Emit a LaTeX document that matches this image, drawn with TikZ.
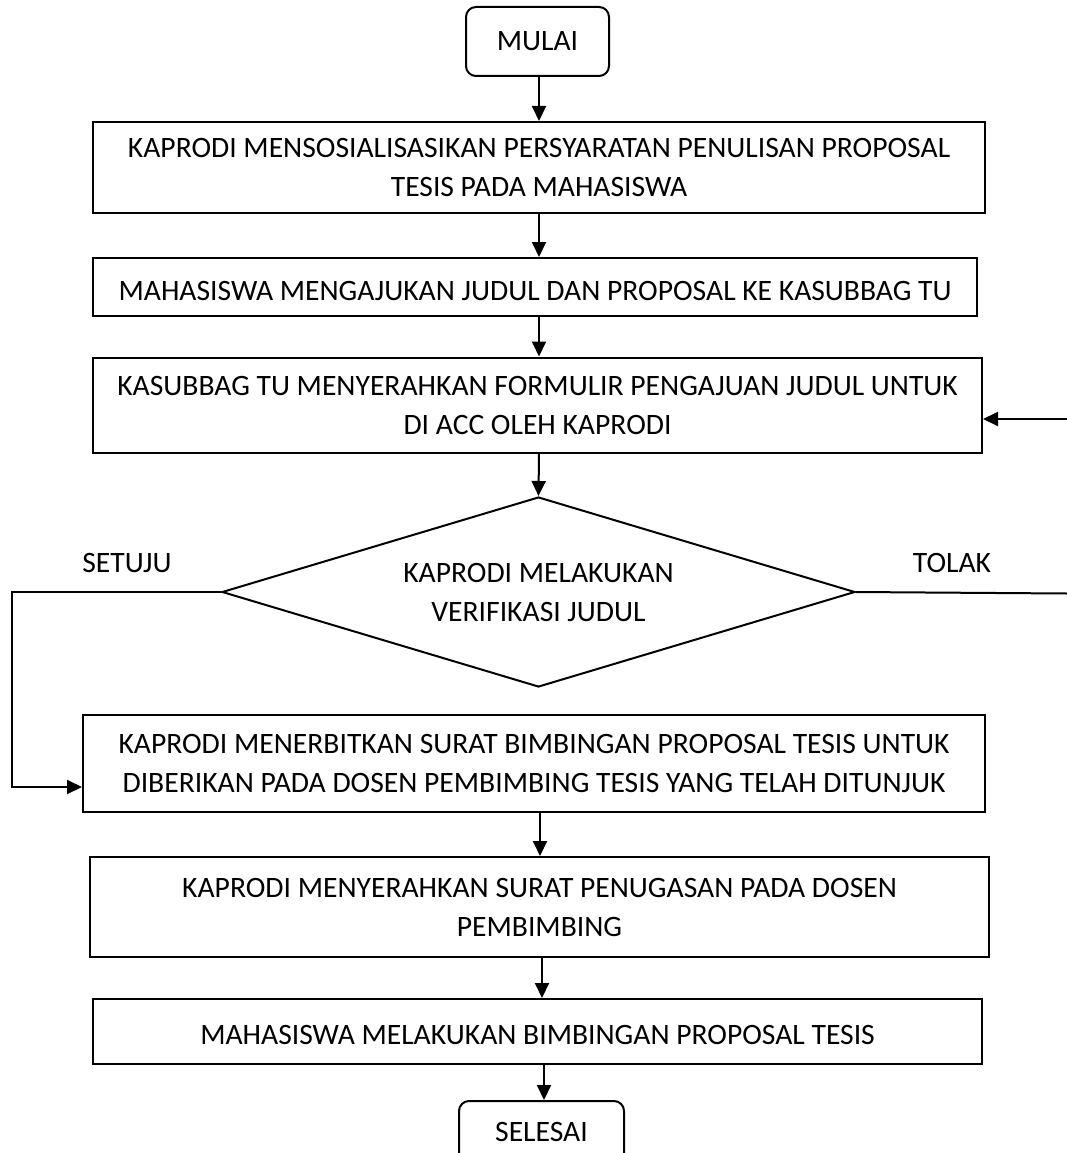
\documentclass[tikz,border=0pt]{standalone}
\usepackage{fontspec}
\setmainfont{Carlito}
\usetikzlibrary{arrows.meta,shapes.geometric}
\begin{document}
\begin{tikzpicture}[x=1pt,y=-1pt,
  every node/.style={font=\fontsize{29.6}{39}\selectfont},
  proc/.style={draw,line width=2pt,rectangle,inner sep=0pt,align=center,
    execute at begin node={\rule{0pt}{27pt}}},
  term/.style={draw,line width=2pt,rounded corners=10pt,inner sep=0pt},
  dec/.style={draw,line width=2pt,diamond,aspect=3.3,inner sep=0pt,align=center},
  flow/.style={line width=2pt,-{Triangle[length=15pt,width=14pt]}},
  plain/.style={line width=2pt}]
\useasboundingbox (0,0) rectangle (1067,1153);

% terminals and process boxes
\node[term,minimum width=143pt,minimum height=69pt] (mulai) at (537.5,41.5) {MULAI};
\node[proc,minimum width=892pt,minimum height=91pt] (p1) at (539,167.5)
  {KAPRODI MENSOSIALISASIKAN PERSYARATAN PENULISAN PROPOSAL\\TESIS PADA MAHASISWA};
\node[proc,minimum width=884pt,minimum height=58pt] (p2) at (535,287)
  {MAHASISWA MENGAJUKAN JUDUL DAN PROPOSAL KE KASUBBAG TU};
\node[proc,minimum width=889pt,minimum height=95pt] (p3) at (537.5,405)
  {KASUBBAG TU MENYERAHKAN FORMULIR PENGAJUAN JUDUL UNTUK\\DI ACC OLEH KAPRODI};
\node[dec,minimum width=633pt,minimum height=190pt] (d) at (538.5,592)
  {KAPRODI MELAKUKAN\\VERIFIKASI JUDUL};
\node[proc,minimum width=902pt,minimum height=97pt] (p4) at (534,763.5)
  {KAPRODI MENERBITKAN SURAT BIMBINGAN PROPOSAL TESIS UNTUK\\DIBERIKAN PADA DOSEN PEMBIMBING TESIS YANG TELAH DITUNJUK};
\node[proc,minimum width=899pt,minimum height=100pt] (p5) at (539.5,907)
  {KAPRODI MENYERAHKAN SURAT PENUGASAN PADA DOSEN\\PEMBIMBING};
\node[proc,minimum width=889pt,minimum height=65pt] (p6) at (537.5,1031.5)
  {MAHASISWA MELAKUKAN BIMBINGAN PROPOSAL TESIS};
\node[term,minimum width=165pt,minimum height=62pt] (sel) at (541.5,1132) {SELESAI};

% branch labels
\node (setuju) at (127,563) {SETUJU};
\node (tolak) at (952,563) {TOLAK};

% main flow
\draw[flow] (mulai.south -| p1) -- (p1.north);
\draw[flow] (p1.south) -- (p1.south |- p2.north);
\draw[flow] (p2.south -| p1) -- (p1 |- p3.north);
\draw[flow] (p3.south -| p1) -- (d.north);
\coordinate (c45) at (540,0);
\draw[flow] (p4.south -| c45) -- (c45 |- p5.north);
\coordinate (c56) at (542,0);
\draw[flow] (p5.south -| c56) -- (c56 |- p6.north);
\coordinate (c6s) at (544,0);
\draw[flow] (p6.south -| c6s) -- (c6s |- sel.north);

% approved branch
\coordinate (lc) at (12,592);
\draw[flow] (d.west) -- (lc) |- ([yshift=-23.5pt]p4.west);

% rejected branch back to the form step
\coordinate (re) at (1067,593.5);
\draw[plain] (d.east) -- (re);
\coordinate (rt) at (1067,419);
\draw[flow] (rt) -- (rt -| p3.east);
\end{tikzpicture}
\end{document}
